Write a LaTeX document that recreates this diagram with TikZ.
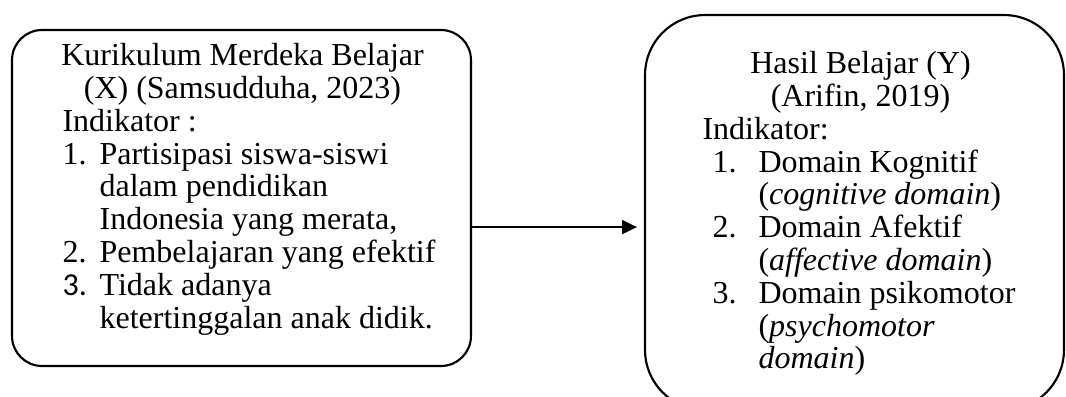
\documentclass[tikz,border=0pt]{standalone}
\usepackage{fontspec}
\setmainfont{Liberation Serif}
\newfontfamily\calfont{Carlito}
\usetikzlibrary{arrows.meta,positioning}
\begin{document}
\begin{tikzpicture}[x=0.375pt, y=0.375pt, >={Triangle[length=5.6pt,width=5.2pt]},
  kotak/.style={draw, line width=0.8pt, rectangle},
  isi/.style={inner sep=0, align=left, font=\fontsize{12}{12.3}\selectfont}]
\useasboundingbox (0,0) rectangle (1066,396);
\clip (0,0) rectangle (1066,396);
\node[kotak, rounded corners=11.25pt, minimum width=172.1pt, minimum height=126pt](X) at (241.5,198){};
\node[kotak, rounded corners=22.5pt, minimum width=157.1pt, minimum height=148.1pt](Y) at (854.5,183.5){};
\node[isi, anchor=north west](Xt) at (62,353){\makebox[135pt]{Kurikulum Merdeka Belajar}\\
\makebox[135pt]{(X) (Samsudduha, 2023)}\\
Indikator :\\
\makebox[13.9pt][l]{1.}Partisipasi siswa-siswi\\
\hspace*{13.9pt}dalam pendidikan\\
\hspace*{13.9pt}Indonesia yang merata,\\
\makebox[13.9pt][l]{2.}Pembelajaran yang efektif\\
\makebox[13.9pt][l]{\calfont 3.}Tidak adanya\\
\hspace*{13.9pt}ketertinggalan anak didik.};
\node[isi, anchor=north west](Yt) at (702,345){\makebox[118.5pt]{Hasil Belajar (Y)}\\
\makebox[118.5pt]{(Arifin, 2019)}\\
Indikator:\\
\hspace*{3.75pt}\makebox[17.25pt][l]{1.}Domain Kognitif\\
\hspace*{21pt}(\textit{cognitive domain})\\
\hspace*{3.75pt}\makebox[17.25pt][l]{2.}Domain Afektif\\
\hspace*{21pt}(\textit{affective domain})\\
\hspace*{3.75pt}\makebox[17.25pt][l]{3.}Domain psikomotor\\
\hspace*{21pt}(\textit{psychomotor}\\
\hspace*{21pt}\textit{domain})};
\coordinate (p) at ([yshift=-10.9pt]X.east);
\draw[->, line width=0.8pt, shorten >=2.6pt](p)--(p -| Y.west);
\end{tikzpicture}
\end{document}
